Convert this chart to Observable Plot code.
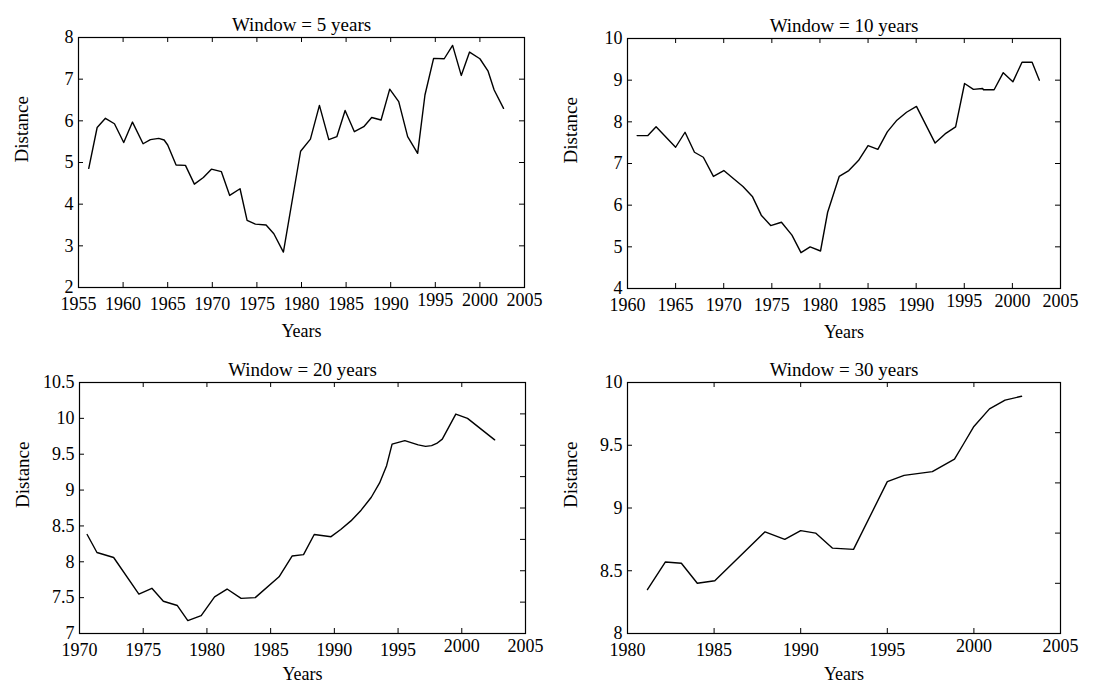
<!DOCTYPE html>
<html><head><meta charset="utf-8">
<script src="https://cdn.jsdelivr.net/npm/d3@7"></script>
<script src="https://cdn.jsdelivr.net/npm/@observablehq/plot@0.6"></script>
<style>
body{margin:0;background:#fff;}
#fig{position:relative;width:1098px;height:685px;background:#fff;}
#fig > div{position:absolute;}
</style></head><body><div id="fig"></div>
<script>
// ---- Data ----
const years5 = [1956.15,1957.09,1958.02,1959.03,1960.07,1961.05,1962.24,1963.06,1964.0,1964.6,1965.0,1965.94,1966.99,1967.99,1969.0,1969.9,1971.02,1971.95,1973.11,1973.9,1974.83,1976.03,1976.9,1977.97,1979.9,1981.0,1982.01,1983.06,1983.96,1984.89,1985.93,1986.98,1987.87,1988.92,1989.89,1990.9,1991.9,1993.02,1993.84,1994.81,1996.0,1996.94,1997.91,1998.84,2000.0,2000.9,2001.6,2002.65];
const dist5  = [4.86,5.84,6.06,5.93,5.48,5.97,5.45,5.55,5.58,5.54,5.42,4.94,4.93,4.48,4.64,4.84,4.78,4.21,4.37,3.61,3.52,3.50,3.29,2.85,5.27,5.56,6.37,5.55,5.62,6.25,5.74,5.86,6.08,6.02,6.76,6.46,5.62,5.22,6.62,7.50,7.49,7.81,7.09,7.65,7.49,7.20,6.74,6.30];

const years10 = [1961.0,1962.12,1962.97,1965.0,1965.98,1966.96,1967.88,1968.93,1970.01,1971.0,1972.0,1973.0,1973.9,1974.88,1976.0,1977.09,1978.03,1978.98,1980.06,1980.8,1982.0,1983.0,1984.0,1985.0,1986.02,1987.0,1988.0,1989.0,1990.03,1991.97,1993.0,1994.1,1995.03,1995.95,1996.9,1997.0,1998.1,1999.05,2000.05,2001.0,2002.05,2002.8];
const dist10  = [7.67,7.67,7.88,7.39,7.75,7.27,7.15,6.69,6.83,6.64,6.45,6.20,5.76,5.51,5.59,5.28,4.86,5.00,4.90,5.83,6.69,6.83,7.07,7.43,7.34,7.76,8.04,8.23,8.37,7.49,7.71,7.88,8.92,8.78,8.80,8.77,8.77,9.18,8.96,9.43,9.43,9.00];

const years20 = [1970.6,1971.37,1972.68,1974.66,1975.68,1976.58,1977.68,1978.5,1979.55,1980.6,1981.58,1982.68,1983.79,1985.66,1986.68,1987.58,1988.42,1989.74,1990.5,1991.3,1992.1,1992.9,1993.55,1994.1,1994.53,1995.53,1996.58,1997.16,1997.63,1998.03,1998.47,1999.53,2000.45,2002.58];
const dist20  = [8.38,8.13,8.06,7.55,7.63,7.45,7.39,7.18,7.25,7.51,7.62,7.49,7.50,7.79,8.08,8.10,8.38,8.35,8.45,8.57,8.72,8.90,9.10,9.34,9.64,9.69,9.63,9.61,9.62,9.65,9.71,10.06,10.00,9.70];

const years30 = [1981.15,1982.19,1983.11,1984.03,1985.04,1987.94,1989.08,1990.0,1990.86,1991.84,1993.05,1995.0,1995.97,1997.6,1998.88,1999.4,2000.0,2000.9,2001.8,2002.75];
const dist30  = [8.35,8.57,8.56,8.40,8.42,8.81,8.75,8.82,8.80,8.68,8.67,9.21,9.26,9.29,9.39,9.51,9.65,9.79,9.86,9.89];

// ---- Tick labels ----
const xTicks5  = [1955,1960,1965,1970,1975,1980,1985,1990,1995,2000,2005];
const xTicks10 = [1960,1965,1970,1975,1980,1985,1990,1995,2000,2005];
const xTicks20 = [1970,1975,1980,1985,1990,1995,2000,2005];
const xTicks30 = [1980,1985,1990,1995,2000,2005];
const yTicks5  = [2,3,4,5,6,7,8];
const yTicks10 = [4,5,6,7,8,9,10];
const yTicks20 = [7,7.5,8,8.5,9,9.5,10,10.5];
const yTicks30 = [8,8.5,9,9.5,10];
const rightTicks20 = [7.4375,7.875,8.3125,8.75,9.1875,9.625,10.0625];
const rightTicks30 = [8.4,8.8,9.2,9.6];

const FONT = '"Liberation Serif","Times New Roman",serif';

const panels = [
  {title:"Window = 5 years", years:years5, dist:dist5, xd:[1955,2005], yd:[2,8], xt:xTicks5, yt:yTicks5, rt:yTicks5, raised:[1995,2000,2005],
   left:0, top:0, w:549, h:342, m:[37,25,55,78], yearsDy:44},
  {title:"Window = 10 years", years:years10, dist:dist10, xd:[1960,2005], yd:[4,10], xt:xTicks10, yt:yTicks10, rt:yTicks10, raised:[1995,2000,2005],
   left:549, top:0, w:549, h:342, m:[38,38,54,78], yearsDy:44},
  {title:"Window = 20 years", years:years20, dist:dist20, xd:[1970,2005], yd:[7,10.5], xt:xTicks20, yt:yTicks20, rt:rightTicks20, raised:[2000,2005],
   left:0, top:342, w:549, h:343, m:[40,24,52,79], yearsDy:41},
  {title:"Window = 30 years", years:years30, dist:dist30, xd:[1980,2005], yd:[8,10], xt:xTicks30, yt:yTicks30, rt:rightTicks30, raised:[2000,2005],
   left:549, top:342, w:549, h:343, m:[40,38,52,78], yearsDy:41}
];

const fig = document.getElementById("fig");
for (const p of panels) {
  const [mt, mr, mb, ml] = p.m;
  const fw = p.w - ml - mr, fh = p.h - mt - mb;
  const data = p.years.map((y, i) => ({year: y, dist: p.dist[i]}));
  const inner = (arr, d) => arr.filter(t => t > d[0] && t < d[1]);
  const normal = p.xt.filter(t => !p.raised.includes(t));
  const svg = Plot.plot({
    width: p.w, height: p.h,
    marginTop: mt, marginRight: mr, marginBottom: mb, marginLeft: ml,
    x: {domain: p.xd},
    y: {domain: p.yd},
    style: {fontFamily: FONT, fontSize: "18px", color: "#000", background: "#fff", overflow: "visible"},
    marks: [
      Plot.axisX(normal, {tickSize: 0, tickPadding: 10, label: null, tickFormat: d => String(d), fontSize: 18}),
      Plot.axisX(p.raised, {tickSize: 0, tickPadding: 10, dy: -4.5, label: null, tickFormat: d => String(d), fontSize: 18}),
      Plot.axisY(p.yt, {tickSize: 0, tickPadding: 5, label: null, tickFormat: d => String(d), fontSize: 18}),
      Plot.tickX(inner(p.xt, p.xd), {x: d => d, insetBottom: fh - 5, stroke: "#000", strokeWidth: 1}),
      Plot.tickX(inner(p.xt, p.xd), {x: d => d, insetTop: fh - 5, stroke: "#000", strokeWidth: 1}),
      Plot.tickY(inner(p.yt, p.yd), {y: d => d, insetRight: fw - 5, stroke: "#000", strokeWidth: 1}),
      Plot.tickY(inner(p.rt, p.yd), {y: d => d, insetLeft: fw - 5, stroke: "#000", strokeWidth: 1}),
      Plot.line(data, {x: "year", y: "dist", stroke: "#000", strokeWidth: 1.4}),
      Plot.frame({stroke: "#000", strokeWidth: 1.2}),
      Plot.text([p.title], {text: d => d, frameAnchor: "top", dy: -7, lineAnchor: "bottom", fontSize: 19, fill: "#000"}),
      Plot.text(["Years"], {text: d => d, frameAnchor: "bottom", dy: p.yearsDy, lineAnchor: "middle", fontSize: 18, fill: "#000"}),
      Plot.text(["Distance"], {text: d => d, frameAnchor: "left", dx: -57, rotate: -90, lineAnchor: "middle", fontSize: 19, fill: "#000"})
    ]
  });
  const holder = document.createElement("div");
  holder.style.left = p.left + "px";
  holder.style.top = p.top + "px";
  holder.appendChild(svg);
  fig.appendChild(holder);
}
</script>
</body></html>
